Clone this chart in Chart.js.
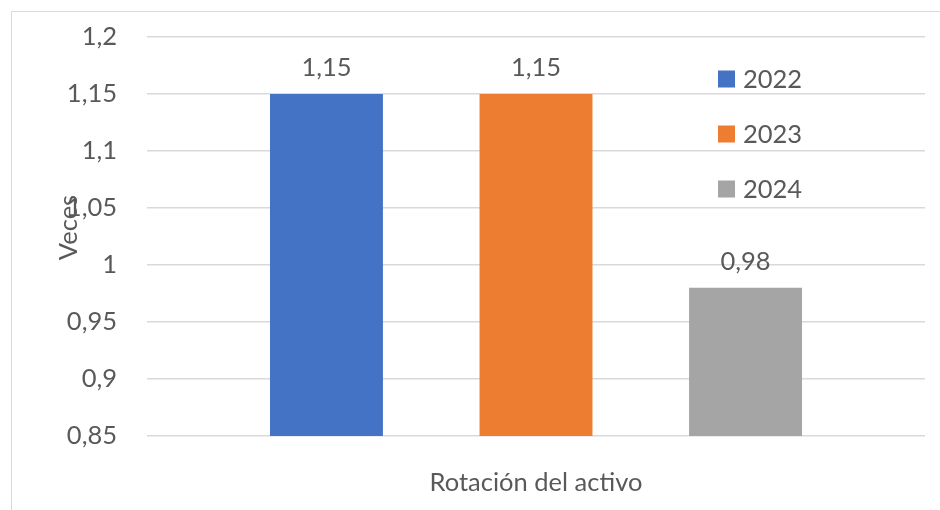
<!DOCTYPE html>
<html lang="es">
<head>
<meta charset="utf-8">
<title>Rotación del activo</title>
<script src="https://cdn.jsdelivr.net/npm/chart.js@4/dist/chart.umd.min.js"></script>
<style>
  html, body { margin: 0; padding: 0; background: #ffffff; }
  #wrap { position: relative; width: 940px; height: 510px; }
  canvas { display: block; }
</style>
</head>
<body>
<div id="wrap"><canvas id="chart" width="940" height="510"></canvas></div>
<script>
// Data
const categories = ['Rotación del activo'];
const seriesNames = ['2022', '2023', '2024'];
const values2022 = [1.15];
const values2023 = [1.15];
const values2024 = [0.98];
const seriesColors = ['#4472C4', '#ED7D31', '#A5A5A5'];
const yMin = 0.85;
const yMax = 1.2;
const yStep = 0.05;
const yTitle = 'Veces';

const TEXT = '#595959';
const GRID = '#D9D9D9';
const FONT = 'Lato, "Liberation Sans", sans-serif';
const FS = 25.5;

// Spanish decimal comma
function fmt(v) {
  const r = Math.round(v * 100) / 100;
  return String(r).replace('.', ',');
}

// Thin outer frame of the chart object
const framePlugin = {
  id: 'frame',
  beforeDraw(chart) {
    const ctx = chart.ctx;
    ctx.save();
    ctx.strokeStyle = GRID;
    ctx.lineWidth = 1;
    ctx.strokeRect(11.5, 11.5, 2000, 2000);
    ctx.restore();
  }
};

// Value labels above each bar
const valueLabels = {
  id: 'valueLabels',
  afterDatasetsDraw(chart) {
    const ctx = chart.ctx;
    ctx.save();
    ctx.font = FS + 'px ' + FONT;
    ctx.fillStyle = TEXT;
    ctx.textAlign = 'center';
    ctx.textBaseline = 'alphabetic';
    chart.data.datasets.forEach((ds, i) => {
      const meta = chart.getDatasetMeta(i);
      meta.data.forEach((bar, j) => {
        ctx.fillText(fmt(ds.data[j]), bar.x, bar.y - 18);
      });
    });
    ctx.restore();
  }
};

// Legend sitting inside the plot area
const innerLegend = {
  id: 'innerLegend',
  afterDraw(chart) {
    const ctx = chart.ctx;
    const area = chart.chartArea;
    const x0 = area.right - 207;
    const y0 = area.top + 42;
    const gap = 55;
    const box = 17;
    ctx.save();
    ctx.font = FS + 'px ' + FONT;
    ctx.textAlign = 'left';
    ctx.textBaseline = 'middle';
    chart.data.datasets.forEach((ds, i) => {
      const cy = y0 + i * gap;
      ctx.fillStyle = ds.backgroundColor;
      ctx.fillRect(x0, cy - box / 2, box, box);
      ctx.fillStyle = TEXT;
      ctx.fillText(ds.label, x0 + 25, cy + 1);
    });
    ctx.restore();
  }
};

// Vertical axis title, placed over the tick column
const axisTitle = {
  id: 'axisTitle',
  afterDraw(chart) {
    const ctx = chart.ctx;
    const area = chart.chartArea;
    ctx.save();
    ctx.font = FS + 'px ' + FONT;
    ctx.fillStyle = TEXT;
    ctx.translate(area.left - 70, (area.top + area.bottom) / 2 - 9);
    ctx.rotate(-Math.PI / 2);
    ctx.textAlign = 'center';
    ctx.textBaseline = 'alphabetic';
    ctx.fillText(yTitle, 0, 0);
    ctx.restore();
  }
};

const seriesValues = [values2022, values2023, values2024];

new Chart(document.getElementById('chart'), {
  type: 'bar',
  data: {
    labels: categories,
    datasets: seriesNames.map((name, i) => ({
      label: name,
      data: seriesValues[i],
      backgroundColor: seriesColors[i],
      borderWidth: 0,
      categoryPercentage: 0.808,
      barPercentage: 0.539
    }))
  },
  options: {
    responsive: false,
    animation: false,
    devicePixelRatio: 1,
    layout: { padding: { top: 37, right: 15, left: 0, bottom: 0 } },
    plugins: {
      legend: { display: false },
      tooltip: { enabled: false }
    },
    scales: {
      x: {
        grid: { display: false },
        border: { display: false },
        ticks: {
          color: TEXT,
          font: { family: FONT, size: FS },
          padding: 23,
          maxRotation: 0
        },
        afterFit(scale) { scale.height = 74; }
      },
      y: {
        min: yMin,
        max: yMax,
        border: { display: false },
        grid: { color: GRID, lineWidth: 1.5, drawTicks: false },
        ticks: {
          stepSize: yStep,
          color: TEXT,
          font: { family: FONT, size: FS },
          padding: 30,
          callback: (v) => fmt(v)
        },
        afterFit(scale) {
          scale.width = 147;
          // the label gap is horizontal only; keep it out of the vertical padding
          scale.paddingTop = 0;
          scale.paddingBottom = 0;
        }
      }
    }
  },
  plugins: [framePlugin, valueLabels, innerLegend, axisTitle]
});
</script>
</body>
</html>
